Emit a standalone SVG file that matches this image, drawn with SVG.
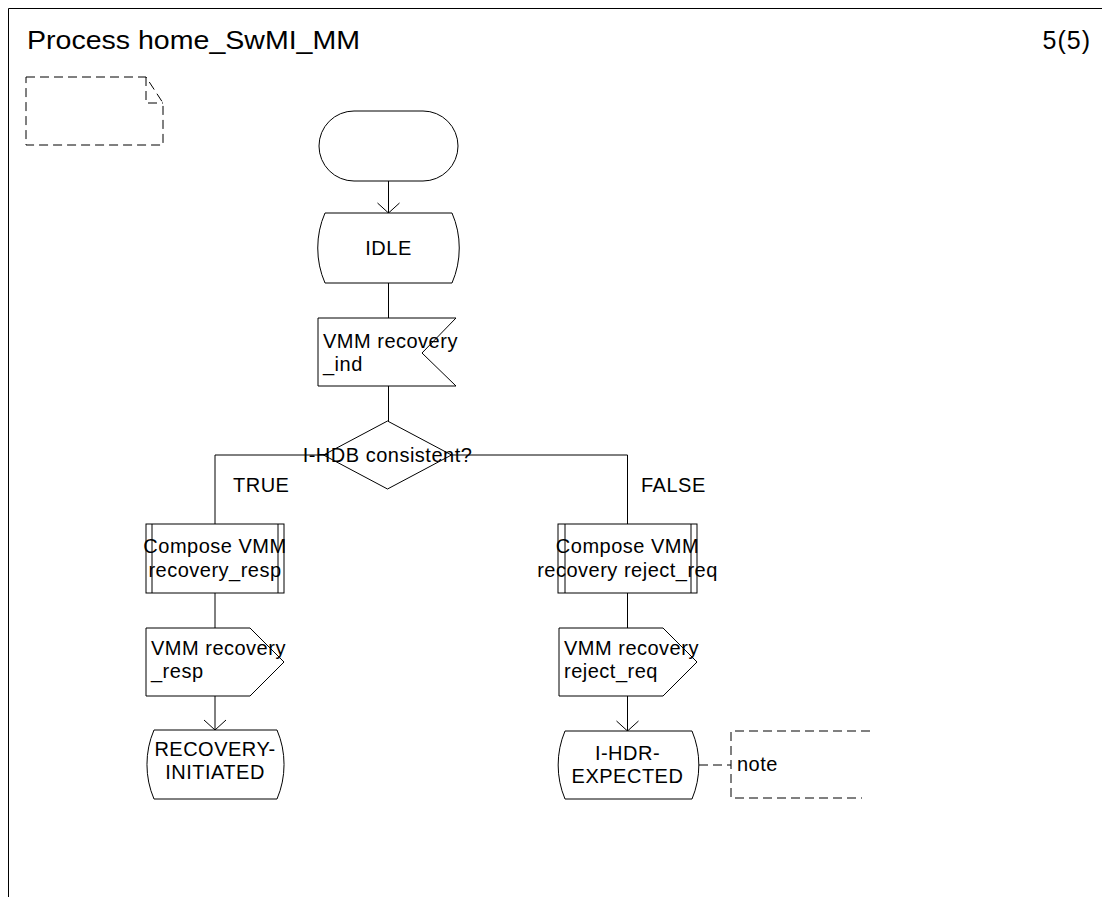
<svg xmlns="http://www.w3.org/2000/svg" width="1102" height="897" viewBox="0 0 1102 897">
<style>
.s{fill:none;stroke:#000;stroke-width:1}
.w{fill:#fff;stroke:#000;stroke-width:1}
.d{fill:none;stroke:#000;stroke-width:1;stroke-dasharray:9,5}
text{font-family:"Liberation Sans",Arial,sans-serif;font-size:20px;fill:#000;letter-spacing:0.5px}
.c{text-anchor:middle}
</style>
<rect width="1102" height="897" fill="#fff"/>
<g id="frame">
<path class="s" d="M8.5,897 L8.5,8.5 L1102,8.5"/>
<text x="27" y="49" style="font-size:25px;letter-spacing:0" textLength="333" lengthAdjust="spacingAndGlyphs">Process home_SwMI_MM</text>
<text x="1091" y="49" style="font-size:25px;letter-spacing:1px" text-anchor="end">5(5)</text>
</g>
<g id="doc">
<path class="d" d="M26,77 L146,77 L163,103 L163,145 L26,145 Z M146,77 L146,103 L163,103"/>
</g>
<g id="connectors">
<path class="s" d="M388.5,181 L388.5,213 M377.5,203 L388.5,213 L399.5,203"/>
<path class="s" d="M388.5,283 L388.5,318"/>
<path class="s" d="M388.5,386 L388.5,421"/>
<path class="s" d="M215,524 L215,455 L627.5,455 L627.5,524"/>
<path class="s" d="M215,593 L215,628"/>
<path class="s" d="M215,696 L215,730 M204,720 L215,730 L226,720"/>
<path class="s" d="M627.5,593 L627.5,628"/>
<path class="s" d="M627.5,696 L627.5,731 M616.5,721 L627.5,731 L638.5,721"/>
<path class="d" d="M699,765 L731,765"/>
</g>
<g id="start">
<rect class="w" x="319" y="111" width="139" height="70" rx="35" ry="35"/>
</g>
<g id="idle">
<path class="w" d="M325,213 L452,213 A88,88 0 0 1 452,283 L325,283 A88,88 0 0 1 325,213 Z"/>
<text class="c" x="388.5" y="255">IDLE</text>
</g>
<g id="input">
<path class="w" d="M318,318 L456,318 L422,353 L456,386 L318,386 Z"/>
<text x="323" y="348">VMM recovery</text>
<text x="323" y="371">_ind</text>
</g>
<g id="decision">
<path class="w" d="M387.5,421 L451.5,455 L387.5,489 L323.5,455 Z"/>
<text class="c" x="387.5" y="462">I-HDB consistent?</text>
</g>
<g id="labels">
<text x="233" y="492">TRUE</text>
<text x="641" y="492">FALSE</text>
</g>
<g id="proc_left">
<rect class="w" x="146" y="524" width="138" height="69"/>
<path class="s" d="M152,524 L152,593 M278,524 L278,593"/>
<text class="c" x="215" y="553">Compose VMM</text>
<text class="c" x="215" y="577">recovery_resp</text>
</g>
<g id="out_left">
<path class="w" d="M146,628 L250,628 L284,662 L250,696 L146,696 Z"/>
<text x="151" y="655">VMM recovery</text>
<text x="151" y="678">_resp</text>
</g>
<g id="state_left">
<path class="w" d="M154,730 L277,730 A88,88 0 0 1 277,799 L154,799 A88,88 0 0 1 154,730 Z"/>
<text class="c" x="215" y="756">RECOVERY-</text>
<text class="c" x="215" y="779">INITIATED</text>
</g>
<g id="proc_right">
<rect class="w" x="558" y="524" width="139" height="69"/>
<path class="s" d="M565,524 L565,593 M691,524 L691,593"/>
<text class="c" x="627.5" y="553">Compose VMM</text>
<text class="c" x="627.5" y="577">recovery reject_req</text>
</g>
<g id="out_right">
<path class="w" d="M559,628 L663,628 L697,662 L663,696 L559,696 Z"/>
<text x="564" y="655">VMM recovery</text>
<text x="564" y="678">reject_req</text>
</g>
<g id="state_right">
<path class="w" d="M565,731 L692,731 A88,88 0 0 1 692,799 L565,799 A88,88 0 0 1 565,731 Z"/>
<text class="c" x="627.5" y="760">I-HDR-</text>
<text class="c" x="627.5" y="783">EXPECTED</text>
</g>
<g id="note">
<path class="d" d="M870,731 L731,731 L731,798 L862,798"/>
<text x="737" y="771">note</text>
</g>
</svg>
